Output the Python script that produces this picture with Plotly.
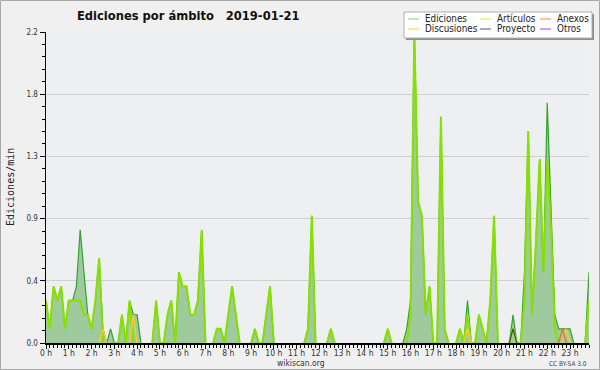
import plotly.graph_objects as go

# ---- data (10-minute bins, 00:00 .. 23:50), edits per minute ----
minutes = list(range(0, 1440, 10))

ediciones = [
    0.3, 0.1, 0.4, 0.3, 0.4, 0.1, 0.3, 0.3, 0.4, 0.8, 0.5, 0.2,
    0.1, 0.3, 0.6, 0.1, 0.0, 0.1, 0.0, 0.0, 0.2, 0.0, 0.3, 0.2,
    0.2, 0.0, 0.0, 0.0, 0.0, 0.3, 0.0, 0.0, 0.2, 0.3, 0.0, 0.5,
    0.4, 0.4, 0.2, 0.2, 0.3, 0.8, 0.0, 0.0, 0.0, 0.1, 0.1, 0.0,
    0.2, 0.4, 0.2, 0.0, 0.0, 0.0, 0.0, 0.1, 0.0, 0.0, 0.2, 0.4,
    0.0, 0.0, 0.0, 0.0, 0.0, 0.0, 0.0, 0.0, 0.0, 0.1, 0.9, 0.0,
    0.0, 0.0, 0.0, 0.1, 0.0, 0.0, 0.0, 0.0, 0.0, 0.0, 0.0, 0.0,
    0.0, 0.0, 0.0, 0.0, 0.0, 0.0, 0.1, 0.0, 0.0, 0.0, 0.0, 0.1,
    0.3, 2.2, 1.0, 0.9, 0.2, 0.4, 0.0, 0.0, 1.6, 0.1, 0.0, 0.0,
    0.0, 0.1, 0.0, 0.3, 0.0, 0.0, 0.2, 0.1, 0.0, 0.3, 0.9, 0.0,
    0.0, 0.0, 0.0, 0.2, 0.0, 0.0, 0.5, 1.5, 0.2, 0.7, 1.3, 0.5,
    1.7, 1.0, 0.2, 0.1, 0.1, 0.1, 0.1, 0.0, 0.0, 0.0, 0.0, 0.5,
]

articulos = [
    0.3, 0.1, 0.4, 0.3, 0.4, 0.1, 0.3, 0.3, 0.3, 0.3, 0.2, 0.2,
    0.1, 0.3, 0.6, 0.0, 0.0, 0.0, 0.0, 0.0, 0.2, 0.0, 0.3, 0.0,
    0.0, 0.0, 0.0, 0.0, 0.0, 0.3, 0.0, 0.0, 0.2, 0.3, 0.0, 0.5,
    0.4, 0.4, 0.2, 0.2, 0.3, 0.8, 0.0, 0.0, 0.0, 0.1, 0.1, 0.0,
    0.2, 0.4, 0.2, 0.0, 0.0, 0.0, 0.0, 0.1, 0.0, 0.0, 0.2, 0.4,
    0.0, 0.0, 0.0, 0.0, 0.0, 0.0, 0.0, 0.0, 0.0, 0.1, 0.9, 0.0,
    0.0, 0.0, 0.0, 0.1, 0.0, 0.0, 0.0, 0.0, 0.0, 0.0, 0.0, 0.0,
    0.0, 0.0, 0.0, 0.0, 0.0, 0.0, 0.1, 0.0, 0.0, 0.0, 0.0, 0.0,
    0.2, 2.2, 1.0, 0.9, 0.2, 0.4, 0.0, 0.0, 1.6, 0.1, 0.0, 0.0,
    0.0, 0.1, 0.0, 0.2, 0.0, 0.0, 0.2, 0.1, 0.0, 0.3, 0.9, 0.0,
    0.0, 0.0, 0.0, 0.1, 0.0, 0.0, 0.3, 1.5, 0.2, 0.7, 1.3, 0.5,
    1.3, 0.8, 0.1, 0.0, 0.0, 0.0, 0.0, 0.0, 0.0, 0.0, 0.0, 0.3,
]

# sparse series: {bin index: value}
discusiones_pts = {15: 0.1, 23: 0.2, 111: 0.1, 137: 0.1}
proyecto_pts = {123: 0.1}
anexos_pts = {136: 0.1}
otros_pts = {}

def expand(pts):
    return [pts.get(i, 0.0) for i in range(len(minutes))]

discusiones = expand(discusiones_pts)
proyecto = expand(proyecto_pts)
anexos = expand(anexos_pts)
otros = expand(otros_pts)

hour_labels = [f"{h} h" for h in range(24)]
y_ticks = [0.0, 0.44, 0.88, 1.32, 1.76, 2.2]
y_labels = ["0.0", "0.4", "0.9", "1.3", "1.8", "2.2"]

legend_items = [
    ("Ediciones", "#88cc88"), ("Artículos", "#ccee44"), ("Anexos", "#ff8844"),
    ("Discusiones", "#ffcc44"), ("Proyecto", "#555555"), ("Otros", "#9944ee"),
]


def mask_flat_zero(vals):
    """Hide stretches lying on the baseline so the axis line stays visible."""
    n = len(vals)
    out = []
    for i, v in enumerate(vals):
        prev_ = vals[i - 1] if i > 0 else 0.0
        next_ = vals[i + 1] if i < n - 1 else 0.0
        out.append(None if (v == 0 and prev_ == 0 and next_ == 0) else v)
    return out


# ---- geometry ----
W, H = 600, 370
L, R, T, B = 46, 11, 32, 27
PW, PH = W - L - R, H - T - B

def px(x):
    return (x - L) / PW

def py(y):
    return (H - B - y) / PH

FONT = "DejaVu Sans Condensed, Liberation Sans Narrow, DejaVu Sans"

fig = go.Figure()
fig.add_trace(go.Scatter(x=minutes, y=ediciones, mode="lines", fill="tozeroy",
                         fillcolor="rgb(158,202,158)",
                         line=dict(width=0, color="rgba(0,0,0,0)"), hoverinfo="skip"))
fig.add_trace(go.Scatter(x=minutes, y=mask_flat_zero(ediciones), mode="lines",
                         line=dict(color="#33a333", width=1.2), hoverinfo="skip"))
fig.add_trace(go.Scatter(x=minutes, y=mask_flat_zero(articulos), mode="lines",
                         line=dict(color="#88e000", width=2), hoverinfo="skip"))
for vals, color, w in [(discusiones, "#ffcc22", 1.3), (anexos, "#ff6622", 1.3),
                       (proyecto, "#444444", 1.1), (otros, "#9944ee", 1.0)]:
    fig.add_trace(go.Scatter(x=minutes, y=mask_flat_zero(vals), mode="lines",
                             line=dict(color=color, width=w), hoverinfo="skip"))

shapes = []
annotations = []

# outer frame
shapes.append(dict(type="rect", xref="paper", yref="paper",
                   x0=px(0.5), x1=px(599.5), y0=py(0.5), y1=py(369.5),
                   line=dict(color="#a8a8a8", width=1), layer="below"))

# legend box with shadow
lx0, lx1, ly0, ly1 = 404, 592, 12, 38
shapes.append(dict(type="rect", xref="paper", yref="paper",
                   x0=px(lx0 + 2), x1=px(lx1 + 2), y0=py(ly0 + 2), y1=py(ly1 + 2),
                   fillcolor="#8c8c8c", line=dict(width=0)))
shapes.append(dict(type="rect", xref="paper", yref="paper",
                   x0=px(lx0), x1=px(lx1), y0=py(ly0), y1=py(ly1),
                   fillcolor="#ffffff", line=dict(color="#b0b0b0", width=1)))
col_x = [408, 480, 540]
row_y = [19, 29]
for k, (name, color) in enumerate(legend_items):
    c, r = k % 3, k // 3
    x0 = col_x[c]
    yy = row_y[r]
    shapes.append(dict(type="line", xref="paper", yref="paper",
                       x0=px(x0), x1=px(x0 + 11), y0=py(yy), y1=py(yy),
                       line=dict(color=color, width=1)))
    annotations.append(dict(xref="paper", yref="paper", x=px(x0 + 15), y=py(yy - 0.5),
                            xanchor="left", yanchor="middle", showarrow=False,
                            text=name, font=dict(family=FONT, size=9.8, color="#222")))

# title
annotations.append(dict(xref="paper", yref="paper", x=px(188), y=py(15),
                        xanchor="center", yanchor="middle", showarrow=False,
                        text="<b>Ediciones por ámbito\u00a0\u00a0 2019-01-21</b>",
                        font=dict(family=FONT, size=12.8, color="#111")))
# y title
annotations.append(dict(xref="paper", yref="paper", x=px(10), y=py(187),
                        xanchor="center", yanchor="middle", showarrow=False, textangle=-90,
                        text="Ediciones/min",
                        font=dict(family="DejaVu Sans Mono", size=10, color="#222")))
# footer texts
annotations.append(dict(xref="paper", yref="paper", x=px(300.5), y=py(363),
                        xanchor="center", yanchor="middle", showarrow=False,
                        text="wikiscan.org", font=dict(family=FONT, size=8.5, color="#333")))
annotations.append(dict(xref="paper", yref="paper", x=px(589), y=py(364),
                        xanchor="right", yanchor="middle", showarrow=False,
                        text="CC BY-SA 3.0", font=dict(family=FONT, size=6.5, color="#444")))

fig.update_layout(
    width=W, height=H,
    margin=dict(l=L, r=R, t=T, b=B, autoexpand=False),
    paper_bgcolor="#f0f0f0",
    plot_bgcolor="#eeeff1",
    showlegend=False,
    shapes=shapes,
    annotations=annotations,
    xaxis=dict(
        range=[0, minutes[-1]], showgrid=False, zeroline=False,
        showline=True, linecolor="#000", linewidth=1.5,
        tickmode="array", tickvals=[h * 60 for h in range(24)], ticktext=hour_labels,
        ticks="outside", ticklen=4, tickcolor="#000", tickwidth=1,
        ticklabelstandoff=-3,
        tickfont=dict(family=FONT, size=8.5, color="#333"),
        minor=dict(tickvals=minutes, ticks="outside", ticklen=3, tickcolor="#000", showgrid=False),
        fixedrange=True, automargin=False,
    ),
    yaxis=dict(
        range=[0, 2.2], zeroline=False,
        showline=True, linecolor="#000", linewidth=1.5,
        tickmode="array", tickvals=y_ticks, ticktext=y_labels,
        ticks="outside", ticklen=5, tickcolor="#000", tickwidth=1,
        gridcolor="#cfcfcf", gridwidth=1,
        tickfont=dict(family=FONT, size=8, color="#333"),
        minor=dict(tickvals=[k * 0.088 for k in range(26)], ticks="outside", ticklen=3,
                   tickcolor="#000", showgrid=False),
        fixedrange=True, automargin=False,
    ),
)

fig.write_html("out.html", config={"displayModeBar": False, "staticPlot": True})

# remove the default page margin so the figure sits at the window's top-left corner
with open("out.html", encoding="utf-8") as f:
    html = f.read()
html = html.replace("<head>", "<head><style>html,body{margin:0;padding:0;overflow:hidden;}</style>", 1)
with open("out.html", "w", encoding="utf-8") as f:
    f.write(html)
